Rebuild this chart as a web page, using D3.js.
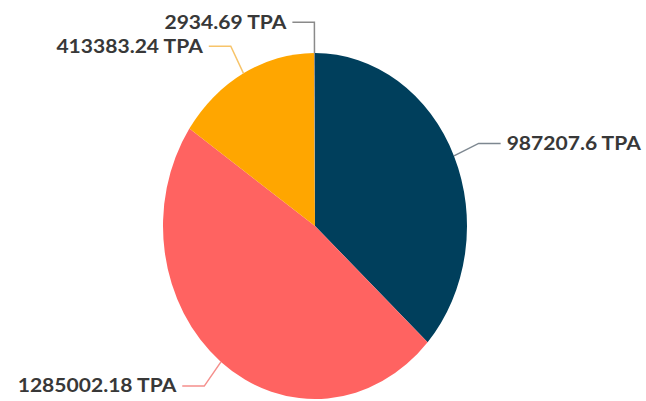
<!DOCTYPE html>
<html lang="en">
<head>
    <meta charset="UTF-8">
    <title>TPA Pie</title>
    <script src="https://d3js.org/d3.v7.min.js"></script>
    <style>
        body { margin: 0; background: #fff; }
        .label {
            font-family: Lato, "Open Sans", sans-serif;
            font-weight: 700;
            font-size: 18px;
            fill: #383838;
        }
        .leader { fill: none; stroke-width: 1.5; }
    </style>
</head>
<body>
    <svg width="646" height="401"></svg>
    <script>
        // Data for the pie (clockwise from 12 o'clock)
        const values = [987207.6, 1285002.18, 413383.24, 2934.69];
        const labels = ["987207.6 TPA", "1285002.18 TPA", "413383.24 TPA", "2934.69 TPA"];
        const colors = ["#003f5c", "#ff6361", "#ffa600", "#8a8a8a"];
        const lineColors = ["#7d8790", "#f58f8c", "#f7c46a", "#8a8a8a"];

        const svg = d3.select("svg");
        const cx = 315, cy = 226;
        const r = 152;
        const sy = 173 / 152;   // the picture is stretched vertically
        const sx = 1.17;        // labels look wider than the font
        const len1 = 27, len2 = 22, gap = 6;

        const data = values.map((v, i) => ({ value: v, label: labels[i], i }));

        const pie = d3.pie()
            .value(d => d.value)
            .sort(null);

        const arcs = pie(data);

        const arc = d3.arc()
            .innerRadius(0)
            .outerRadius(r);

        const g = svg.append("g")
            .attr("transform", `translate(${cx},${cy}) scale(1,${sy})`);

        g.selectAll("path")
            .data(arcs)
            .join("path")
            .attr("d", arc)
            .attr("fill", d => colors[d.data.i]);

        // Leader lines and labels, in page coordinates
        const pt = (a, rad) => [cx + rad * Math.sin(a), cy - rad * sy * Math.cos(a)];

        arcs.forEach(d => {
            const mid = (d.startAngle + d.endAngle) / 2;
            const p0 = pt(mid, r);
            const p1 = pt(mid, r + len1);
            const right = Math.sin(mid) > 0.01;
            const dir = right ? 1 : -1;
            const p2 = [p1[0] + dir * len2, p1[1]];

            svg.append("polyline")
                .attr("class", "leader")
                .attr("points", [p0, p1, p2].map(p => p.join(",")).join(" "))
                .attr("stroke", lineColors[d.data.i]);

            svg.append("text")
                .attr("class", "label")
                .attr("transform", `translate(${p2[0] + dir * gap},${p2[1]}) scale(${sx},1)`)
                .attr("dy", "0.35em")
                .attr("text-anchor", right ? "start" : "end")
                .text(d.data.label);
        });
    </script>
</body>
</html>
